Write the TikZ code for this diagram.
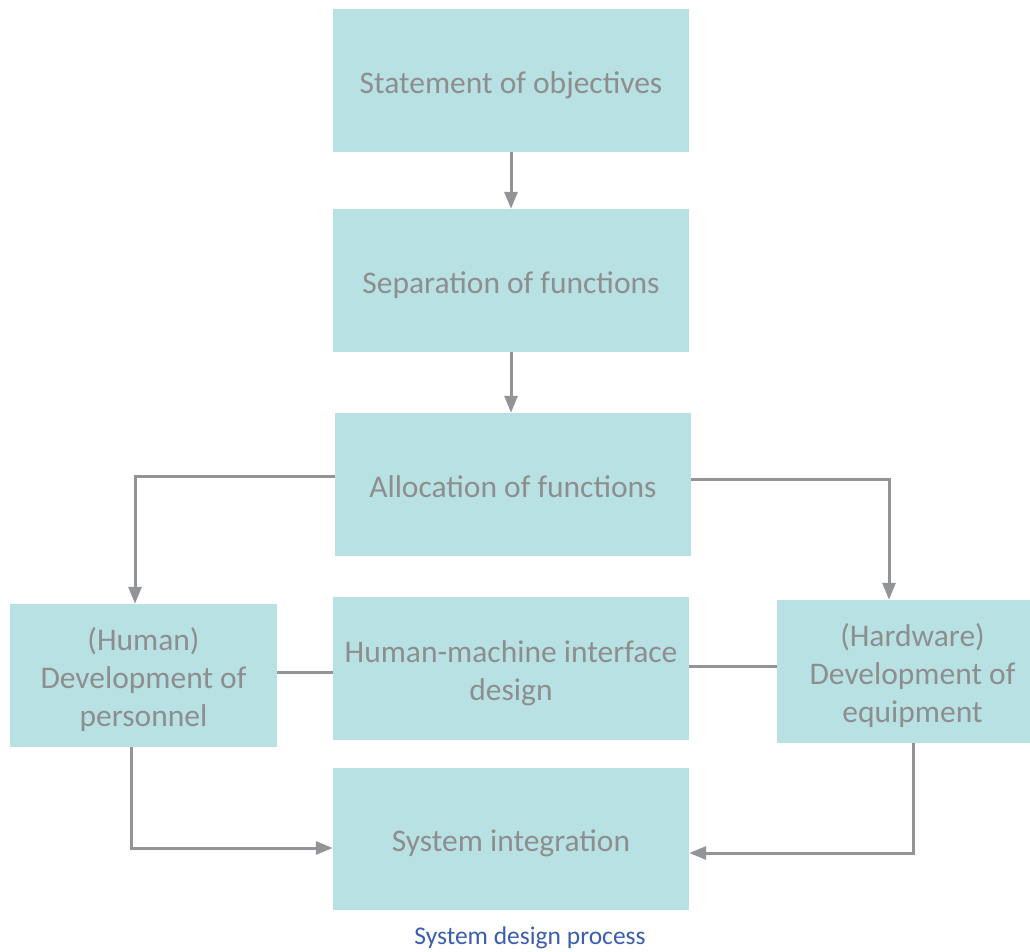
\documentclass[tikz,border=0pt]{standalone}
\usepackage{fontspec}
\setmainfont{Carlito}
\usetikzlibrary{arrows.meta}
\definecolor{boxfill}{HTML}{B8E1E3}
\definecolor{boxtext}{HTML}{8E8E8E}
\definecolor{linkgray}{HTML}{929497}
\definecolor{captionblue}{HTML}{3A5DAE}
% stage text: centred lines, set slightly below the box centre
\newcommand{\stagelabel}[1]{\raisebox{-5pt}[\height][\depth]{\begin{tabular}{@{}c@{}}#1\end{tabular}}}
\begin{document}
\begin{tikzpicture}[x=1pt,y=-1pt,
  stage/.style={fill=boxfill, draw=none, inner sep=0pt,
    text=boxtext, font=\fontsize{31.5}{38}\selectfont},
  link/.style={draw=linkgray, line width=3pt},
  arr/.style={link, -{Triangle[width=13pt,length=17pt]}}]
\useasboundingbox (0,0) rectangle (1030,952);

% process stages
\node[stage, minimum width=356pt, minimum height=143pt] (obj)   at (511,80.5)  {\stagelabel{Statement of objectives}};
\node[stage, minimum width=356pt, minimum height=143pt] (sep)   at (511,280.5) {\stagelabel{Separation of functions}};
\node[stage, minimum width=356pt, minimum height=143pt] (alloc) at (513,484.5) {\stagelabel{Allocation of functions}};
\node[stage, minimum width=267pt, minimum height=143pt] (human) at (143.5,675.5) {\stagelabel{(Human)\\Development of\\personnel}};
\node[stage, minimum width=356pt, minimum height=143pt] (hmi)   at (511,668.5) {\stagelabel{Human-machine interface\\design}};
\node[stage, minimum width=253pt, minimum height=143pt] (hw)    at (903.5,671.5) {\hspace*{18pt}\stagelabel{(Hardware)\\Development of\\equipment}};
\node[stage, minimum width=356pt, minimum height=142pt] (sys)   at (511,839)   {\stagelabel{System integration}};

\node[text=captionblue, font=\fontsize{25.5}{30}\selectfont] (cap) at (530,938) {System design process};

% flow between stages
\draw[arr] (obj.south) -- (sep.north);
\draw[arr] (sep.south) -- (sep.south |- alloc.north);
\draw[arr] ([yshift=8.5pt]alloc.west) -| ([xshift=-8.5pt]human.north);
\draw[arr] ([yshift=5.5pt]alloc.east) -| ([xshift=-14.5pt]hw.north);
\draw[link] ([yshift=3.5pt]human.east) -- ([yshift=-3.5pt]hmi.west);
\draw[link] ([yshift=2.5pt]hmi.east) -- ([yshift=5.5pt]hw.west);
\draw[arr] ([xshift=-12.5pt]human.south) |- ([yshift=-9pt]sys.west);
\draw[arr] ([xshift=9.5pt]hw.south) |- ([yshift=-14pt]sys.east);
\end{tikzpicture}
\end{document}
